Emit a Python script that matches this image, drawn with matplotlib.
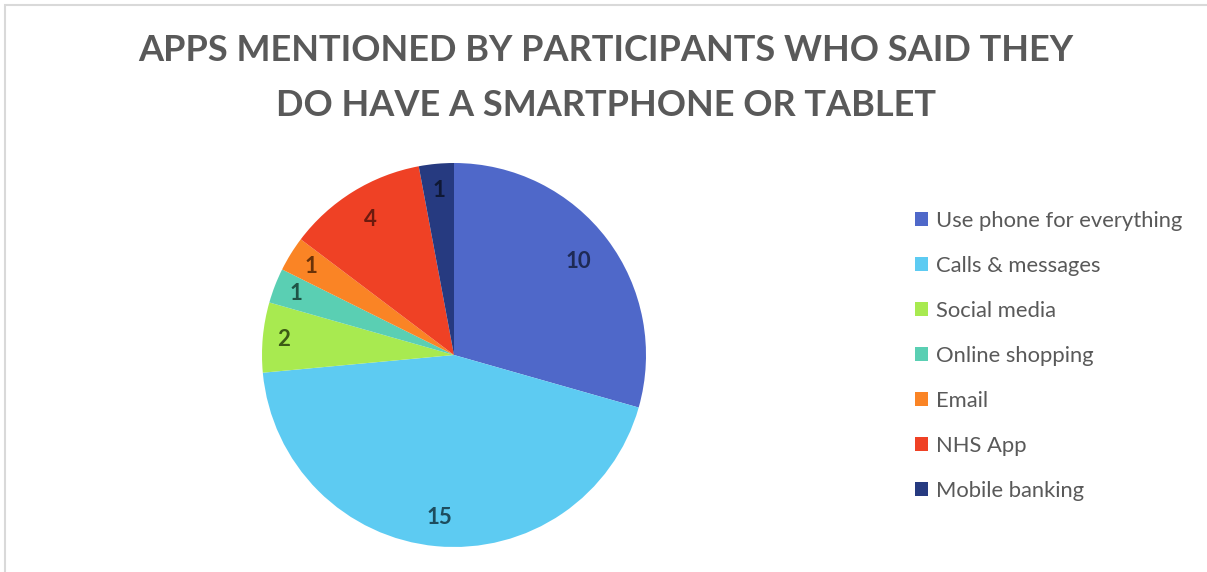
import matplotlib.pyplot as plt
from matplotlib.patches import Rectangle
import numpy as np

plt.rcParams['font.family'] = ['Lato', 'DejaVu Sans']

title = "APPS MENTIONED BY PARTICIPANTS WHO SAID THEY\nDO HAVE A SMARTPHONE OR TABLET"
categories = ["Use phone for everything", "Calls & messages", "Social media",
              "Online shopping", "Email", "NHS App", "Mobile banking"]
counts = [10, 15, 2, 1, 1, 4, 1]

slice_colors = ["#4F68C9", "#5DCBF2", "#A8EA50", "#5ACFB3", "#FA8425", "#EF4125", "#263A80"]
label_colors = ["#1E2A55", "#1D4C5E", "#3C5A16", "#1F5446", "#6A3208", "#6B1A0E", "#0F1834"]
# how far out each value label sits (fraction of radius)
label_radius = [0.81, 0.85, 0.89, 0.88, 0.875, 0.83, 0.86]

W, H = 1207, 572
fig = plt.figure(figsize=(W / 100, H / 100), dpi=100)

# thin grey frame of the chart area
fig.patches.append(Rectangle((5 / W, -0.1), 1.2, 1 - 5 / H + 0.1, transform=fig.transFigure,
                             fill=False, edgecolor="#D9D9D9", linewidth=1.5))

fig.text(606 / W, 1 - 78 / H, title, ha="center", va="center", fontsize=26,
         fontweight="bold", color="#595959", linespacing=1.78)

cx, cy, r = 454, 355, 192
ax = fig.add_axes([(cx - r) / W, 1 - (cy + r) / H, 2 * r / W, 2 * r / H])
wedges, _ = ax.pie(counts, colors=slice_colors, startangle=90, counterclock=False,
                   radius=1, wedgeprops=dict(linewidth=0))
ax.set_xlim(-1, 1)
ax.set_ylim(-1, 1)
ax.axis("off")

for w, v, c, lr in zip(wedges, counts, label_colors, label_radius):
    ang = np.deg2rad((w.theta1 + w.theta2) / 2)
    ax.text(lr * np.cos(ang), lr * np.sin(ang), str(v), ha="center", va="center",
            fontsize=16, fontweight="bold", color=c)

leg = fig.legend(wedges, categories, loc="upper left", bbox_to_anchor=(895 / W, 1 - 191 / H),
                 frameon=False, fontsize=15.8, handlelength=0.6, handleheight=0.6,
                 handletextpad=0.35, labelspacing=1.14, labelcolor="#595959")

fig.savefig("out.png", dpi=100, facecolor="white")
